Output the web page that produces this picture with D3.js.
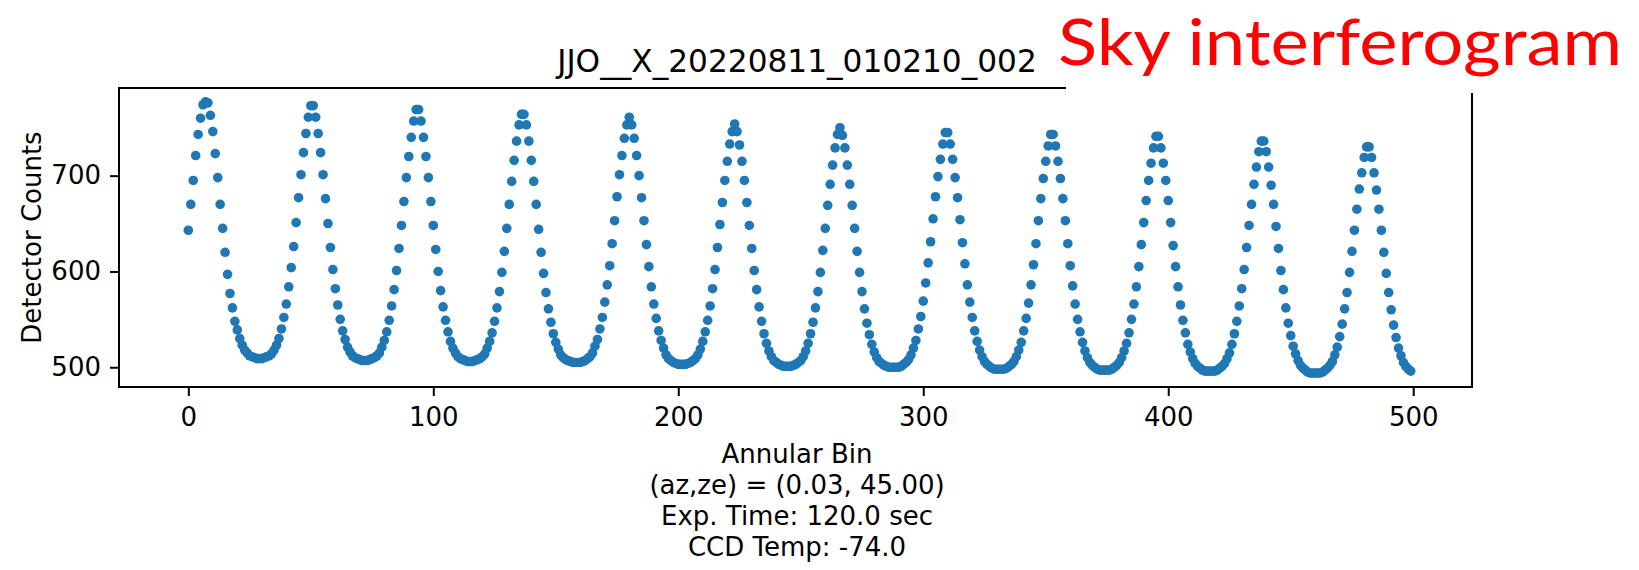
<!DOCTYPE html>
<html>
<head>
<meta charset="utf-8">
<script src="https://cdn.jsdelivr.net/npm/d3@7"></script>
<style>
  body { margin: 0; background: #fff; }
  svg { display: block; font-family: 'DejaVu Sans', sans-serif; }
</style>
</head>
<body>
<svg id="chart"></svg>
<script>
const title = 'JJO__X_20220811_010210_002';
const note = 'Sky interferogram';
const yLabel = 'Detector Counts';
const xLabelLines = ['Annular Bin', '(az,ze) = (0.03, 45.00)', 'Exp. Time: 120.0 sec', 'CCD Temp: -74.0'];
const xTicks = [0, 100, 200, 300, 400, 500];
const yTicks = [500, 600, 700];

// detector counts per annular bin (bin = index)
const counts = [
  643, 670, 695, 721, 743, 760, 774, 777, 776, 763, 746, 723, 698, 670, 645, 620, 597, 577, 562, 548,
  539, 530, 523, 518, 515, 512, 511, 510, 509,
  509, 509, 510, 511, 512, 514, 518, 523, 530, 540, 552, 566, 584, 604, 626, 651, 677, 701, 724, 744, 761, 773,
  773, 761, 744, 724, 701, 676, 650, 625, 602, 582, 565, 550, 538, 529, 521, 516, 512, 510, 509, 508, 507,
  507, 507, 508, 509, 510, 512, 515, 521, 528, 537, 549, 564, 581, 601, 624, 648, 673, 698, 720, 740, 757, 769,
  769, 757, 740, 720, 698, 673, 648, 623, 600, 580, 563, 549, 537, 527, 520, 515, 511, 509, 508, 507, 506,
  506, 506, 507, 508, 509, 511, 514, 520, 527, 536, 548, 562, 579, 599, 621, 645, 670, 694, 716, 736, 753, 764,
  764, 753, 736, 716, 694, 670, 644, 620, 598, 578, 561, 547, 535, 526, 519, 513, 510, 508, 507, 506, 505, 505,
  505, 505, 506, 507, 509, 511, 515, 522, 529, 540, 552, 568, 586, 606, 629, 653, 678, 701, 721, 739, 753, 761,
  753, 739, 721, 700, 677, 653, 628, 605, 584, 566, 551, 538, 528, 520, 513, 509, 507, 505, 504, 503, 503,
  503, 503, 504, 505, 507, 509, 513, 519, 527, 537, 549, 564, 582, 602, 625, 649, 672, 695, 715, 733, 746, 754,
  746, 732, 715, 695, 672, 648, 624, 601, 581, 563, 548, 535, 525, 517, 511, 507, 505, 503, 502, 501, 501,
  501, 501, 502, 503, 505, 507, 511, 517, 525, 535, 547, 562, 579, 599, 622, 645, 669, 691, 711, 729, 743, 750,
  742, 729, 711, 691, 669, 645, 621, 599, 579, 561, 546, 534, 524, 516, 510, 506, 504, 502, 501, 500, 500,
  500, 500, 500, 501, 503, 505, 508, 513, 520, 528, 540, 553, 569, 588, 609, 631, 655, 678, 699, 717, 733, 745,
  745, 733, 717, 698, 677, 654, 630, 608, 586, 568, 552, 538, 527, 518, 511, 506, 503, 501, 499, 498, 498,
  498, 498, 498, 499, 501, 503, 506, 511, 518, 526, 538, 551, 567, 586, 607, 629, 653, 676, 697, 715, 731, 743,
  743, 731, 715, 697, 676, 653, 629, 606, 585, 566, 550, 537, 526, 517, 510, 505, 502, 500, 498, 497, 497,
  497, 497, 497, 498, 500, 502, 505, 510, 517, 525, 536, 550, 566, 584, 605, 628, 651, 674, 695, 713, 729, 741,
  741, 729, 713, 695, 674, 651, 627, 605, 584, 565, 549, 536, 524, 516, 509, 504, 501, 499, 497, 496, 496,
  496, 496, 496, 497, 499, 501, 504, 509, 515, 524, 535, 548, 564, 582, 602, 625, 648, 670, 691, 709, 725, 736,
  736, 725, 709, 690, 670, 647, 624, 601, 581, 562, 546, 533, 522, 514, 507, 502, 499, 497, 495, 494, 494,
  494, 494, 494, 495, 497, 499, 502, 506, 513, 521, 532, 545, 561, 578, 599, 621, 643, 665, 686, 703, 719, 730,
  730, 719, 703, 685, 665, 643, 620, 598, 578, 560, 544, 531, 520, 512, 505, 501, 498, 496
];

const width = 1639, height = 570;
const margin = { top: 88, right: 167, bottom: 183, left: 119 };
const fontSize = 26;

const svg = d3.select('#chart')
  .attr('width', width)
  .attr('height', height);

svg.append('rect')
  .attr('width', width)
  .attr('height', height)
  .attr('fill', '#fff');

const x = d3.scaleLinear()
  .domain([-28.3, 524])
  .range([margin.left, width - margin.right]);

const y = d3.scaleLinear()
  .domain([479.4, 791.5])
  .range([height - margin.bottom, margin.top]);

const styleAxis = g => {
  g.select('.domain').remove();
  g.selectAll('line').attr('stroke', '#000').attr('stroke-width', 2);
  g.selectAll('text')
    .attr('font-size', fontSize)
    .attr('font-family', "'DejaVu Sans', sans-serif")
    .attr('fill', '#000');
};

svg.append('g')
  .attr('transform', `translate(0,${height - margin.bottom})`)
  .call(d3.axisBottom(x).tickValues(xTicks).tickSize(9).tickPadding(12).tickSizeOuter(0))
  .call(styleAxis);

svg.append('g')
  .attr('transform', `translate(${margin.left},0)`)
  .call(d3.axisLeft(y).tickValues(yTicks).tickSize(9).tickPadding(9).tickSizeOuter(0))
  .call(styleAxis);

// scatter
svg.append('g')
  .attr('fill', '#1f77b4')
  .selectAll('circle')
  .data(counts)
  .join('circle')
  .attr('cx', (d, i) => x(i))
  .attr('cy', d => y(d))
  .attr('r', 4.8);

// frame
svg.append('rect')
  .attr('x', margin.left)
  .attr('y', margin.top)
  .attr('width', width - margin.left - margin.right)
  .attr('height', height - margin.top - margin.bottom)
  .attr('fill', 'none')
  .attr('stroke', '#000')
  .attr('stroke-width', 2);

const cx = (margin.left + width - margin.right) / 2 + 1.5;

svg.append('text')
  .attr('x', cx)
  .attr('y', 72)
  .attr('text-anchor', 'middle')
  .attr('font-size', 31.2)
  .attr('fill', '#000')
  .text(title);

svg.append('text')
  .attr('transform', `translate(41,${(margin.top + height - margin.bottom) / 2}) rotate(-90)`)
  .attr('text-anchor', 'middle')
  .attr('font-size', fontSize)
  .attr('fill', '#000')
  .text(yLabel);

svg.append('g')
  .selectAll('text')
  .data(xLabelLines)
  .join('text')
  .attr('x', cx)
  .attr('y', (d, i) => 462.5 + i * 31)
  .attr('text-anchor', 'middle')
  .attr('font-size', fontSize)
  .attr('fill', '#000')
  .text(d => d);

// pasted label box over the top right corner
svg.append('rect')
  .attr('x', 1066)
  .attr('y', 0)
  .attr('width', width - 1066)
  .attr('height', 93)
  .attr('fill', '#fff');

svg.append('text')
  .attr('x', 1058)
  .attr('y', 65)
  .attr('font-family', 'Lato, sans-serif')
  .attr('font-size', 63)
  .attr('fill', '#ff0000')
  .attr('textLength', 564)
  .attr('lengthAdjust', 'spacingAndGlyphs')
  .text(note);
</script>
</body>
</html>
